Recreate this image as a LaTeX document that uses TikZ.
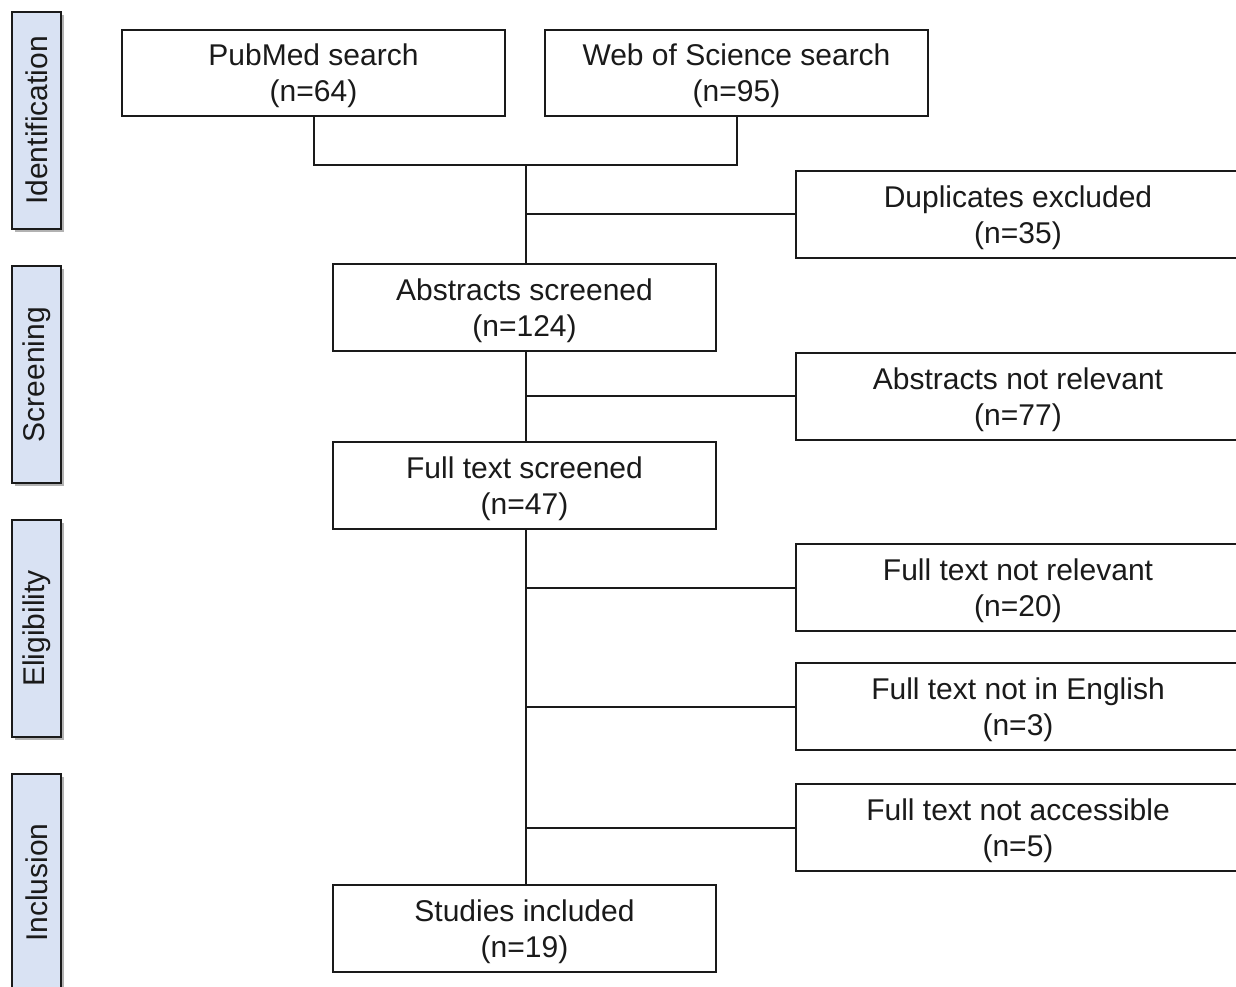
\documentclass[tikz,border=0pt]{standalone}
\usepackage{fontspec}
\setmainfont{Liberation Sans}
\usetikzlibrary{shadows}
\definecolor{sidefill}{HTML}{D9E2F3}
\definecolor{ink}{HTML}{1A1A1A}
\begin{document}
\begin{tikzpicture}[x=0.75pt,y=-0.75pt,
  every node/.style={font=\fontsize{22.5pt}{27pt}\selectfont, text=ink, align=center, inner sep=0pt},
  boxtext/.style={label={[yshift=-2.25pt]center:{#1}}},
  mainbox/.style={draw=ink, line width=1.5pt, fill=white, minimum width=287.25pt, minimum height=64.9pt},
  sidebox/.style={draw=ink, line width=1.5pt, fill=white, minimum width=333pt, minimum height=65.25pt},
  phase/.style={draw=ink, line width=1.4pt, fill=sidefill, rotate=90, minimum width=162.75pt, minimum height=36.75pt,
    drop shadow={shadow xshift=2.2pt, shadow yshift=-2.2pt, fill=black, opacity=0.3}},
  conn/.style={draw=ink, line width=1.5pt}
]
\useasboundingbox (0,0) rectangle (1236,987);
\clip (0,0) rectangle (1236,987);
\fill[white] (0,0) rectangle (1236,987);

% phase labels
\node[phase] (pid) at (36.5,120.5) {Identification};
\node[phase] (psc) at (36.5,374.5) {Screening};
\node[phase] (pel) at (36.5,628.5) {Eligibility};
\node[phase] (pin) at (36.5,882.5) {Inclusion};

% boxes
\node[mainbox, boxtext={PubMed search\\(n=64)}] (pub) at (313.5,73) {};
\node[mainbox, boxtext={Web of Science search\\(n=95)}] (wos) at (736.5,73) {};
\node[sidebox, boxtext={Duplicates excluded\\(n=35)}] (dup) at (1018,214.5) {};
\node[mainbox, boxtext={Abstracts screened\\(n=124)}] (abs) at (524.5,307.5) {};
\node[sidebox, boxtext={Abstracts not relevant\\(n=77)}] (absnr) at (1018,396.5) {};
\node[mainbox, boxtext={Full text screened\\(n=47)}] (fts) at (524.5,485.5) {};
\node[sidebox, boxtext={Full text not relevant\\(n=20)}] (ftnr) at (1018,587.5) {};
\node[sidebox, boxtext={Full text not in English\\(n=3)}] (fteng) at (1018,706.5) {};
\node[sidebox, boxtext={Full text not accessible\\(n=5)}] (ftacc) at (1018,827.5) {};
\node[mainbox, boxtext={Studies included\\(n=19)}] (inc) at (524.5,928.5) {};

\coordinate (j1) at (526,165);

% connectors
\draw[conn] (pub.south) -- (pub.south |- j1) -- (wos.south |- j1) -- (wos.south);
\draw[conn] (j1) -- (j1 |- abs.north);
\draw[conn] (j1 |- dup.west) -- (dup.west);
\draw[conn] (j1 |- abs.south) -- (j1 |- fts.north);
\draw[conn] (j1 |- absnr.west) -- (absnr.west);
\draw[conn] (j1 |- fts.south) -- (j1 |- inc.north);
\draw[conn] (j1 |- ftnr.west) -- (ftnr.west);
\draw[conn] (j1 |- fteng.west) -- (fteng.west);
\draw[conn] (j1 |- ftacc.west) -- (ftacc.west);
\end{tikzpicture}
\end{document}
